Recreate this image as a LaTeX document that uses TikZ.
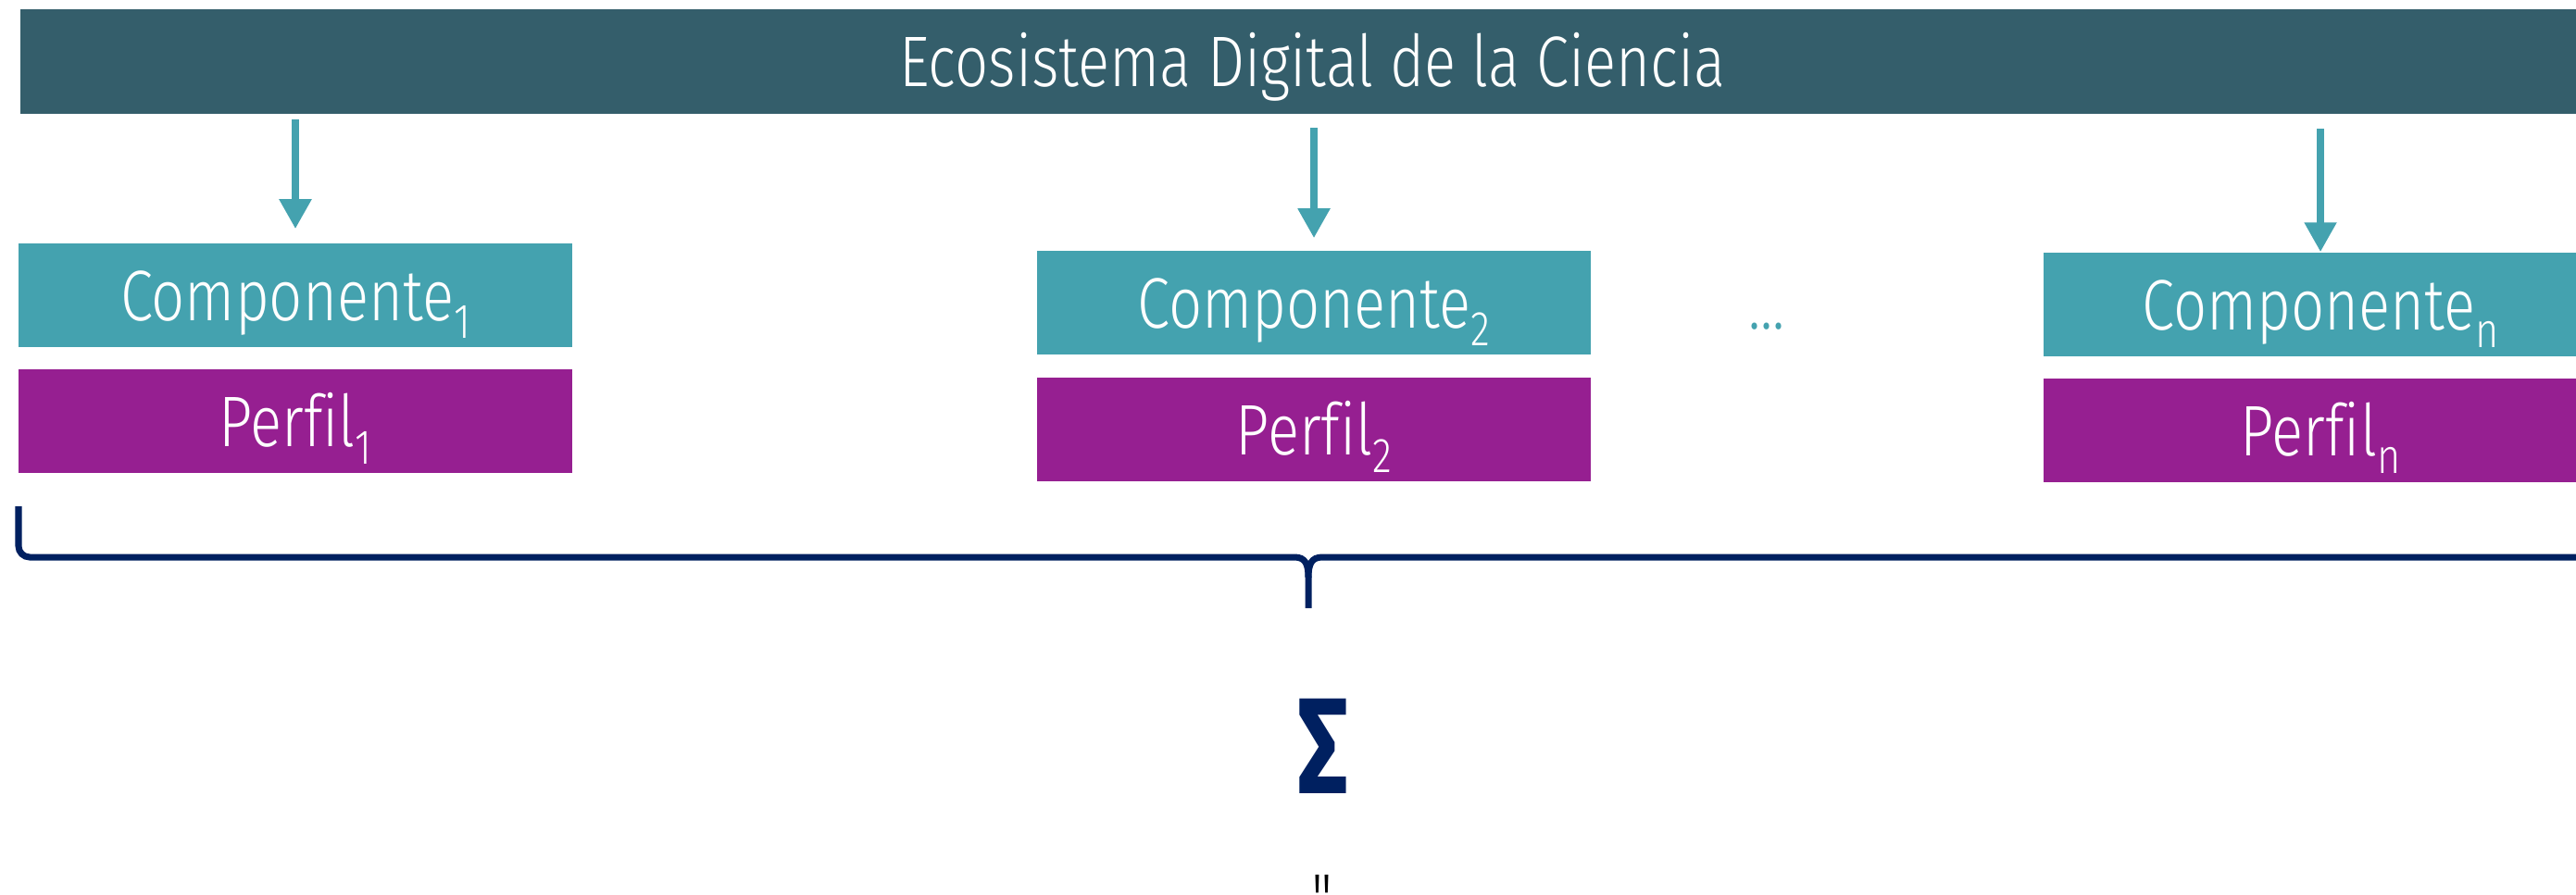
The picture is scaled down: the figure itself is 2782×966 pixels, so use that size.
\documentclass[tikz,border=0pt]{standalone}
\usepackage{fontspec}
\setmainfont{Fira Sans}[UprightFont=* Light, BoldFont=* Bold, FakeStretch=0.82, Ligatures={TeXOff, NoCommon}]
\usetikzlibrary{arrows.meta}
\definecolor{ecoslate}{HTML}{345E6B}
\definecolor{compteal}{HTML}{44A2AF}
\definecolor{perfpurple}{HTML}{961F91}
\definecolor{sumnavy}{HTML}{002060}
\newcommand{\idx}[1]{\raisebox{-0.19cm}{\fontsize{15}{15}\selectfont#1}}

\begin{document}
\begin{tikzpicture}[x=0.01cm, y=-0.01cm,
    compbox/.style={fill=compteal, text=white, inner sep=0pt,
        minimum width=5.97cm, minimum height=1.12cm,
        text height=15.4pt, text depth=0pt, font=\fontsize{22}{26}\selectfont},
    perfbox/.style={compbox, fill=perfpurple},
    down/.style={draw=compteal, line width=0.08cm, -{Triangle[width=0.33cm, length=0.32cm]}},
    brace/.style={draw=sumnavy, line width=0.07cm}]
    \useasboundingbox (0,0) rectangle (2782,966);
    \clip (0,0) rectangle (2782,966);
    \node[compbox, fill=ecoslate, anchor=north west, minimum width=27.9cm, minimum height=1.13cm] (eco) at (21,9) {Ecosistema Digital de la Ciencia};
    % componentes y perfiles
    \node[compbox] (c1) at (319,319) {Componente\idx{1}};
    \node[perfbox] (p1) at (319,455) {Perfil\idx{1}};
    \node[compbox] (c2) at (1419,327) {Componente\idx{2}};
    \node[perfbox] (p2) at (1419,464) {Perfil\idx{2}};
    \node[compbox] (cn) at (2506,329) {Componente\idx{n}};
    \node[perfbox] (pn) at (2506,465) {Perfil\idx{n}};
    \node[text=compteal, anchor=base, font=\fontsize{22}{26}\selectfont] (dots) at (1908,355) {...};
    \draw[down] ([yshift=-0.06cm]eco.south -| c1.north) -- ([yshift=0.15cm]c1.north);
    \draw[down] ([yshift=-0.15cm]eco.south -| c2.north) -- ([yshift=0.13cm]c2.north);
    \draw[down] ([yshift=-0.16cm]eco.south -| cn.north) -- (cn.north);
    % llave
    \coordinate (tip) at (1413,657);
    \draw[brace, rounded corners=0.12cm] (20,547) -- (20,602) [sharp corners] -- (1398,602)
        .. controls (1410,602) and (1413,610) .. (1413,624) -- (tip);
    \draw[brace] (1413,624) .. controls (1413,610) and (1416,602) .. (1428,602) -- (2800,602);
    \node[text=sumnavy, anchor=base, font=\bfseries\fontsize{42}{46}\selectfont] (sum) at (1429,857) {\scalebox{0.9}[1]{Σ}};
    \node[anchor=base, font=\fontsize{22}{26}\selectfont] (quote) at (1428,998) {"};
\end{tikzpicture}
\end{document}
